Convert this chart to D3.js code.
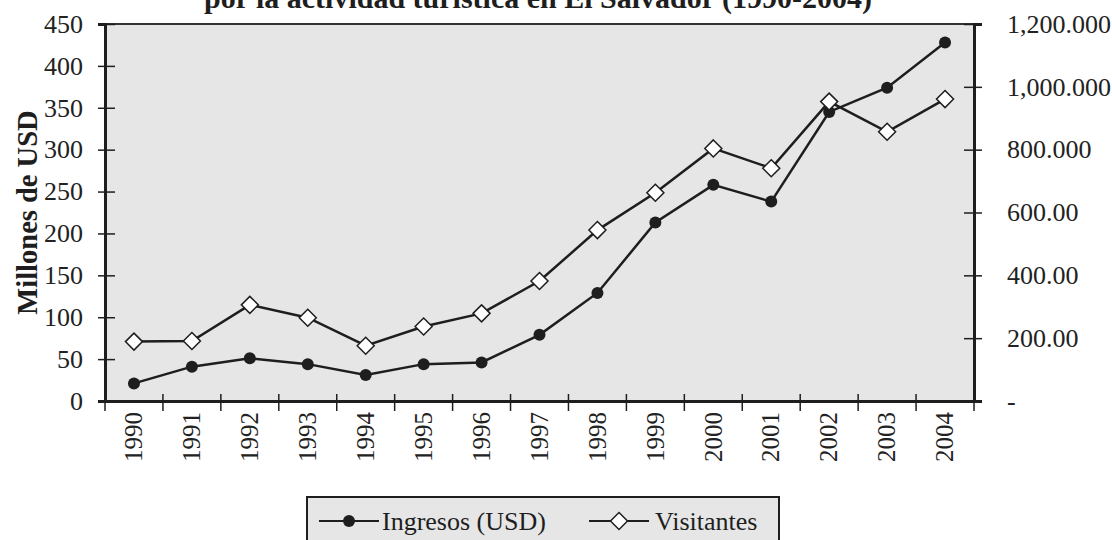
<!DOCTYPE html>
<html>
<head>
<meta charset="utf-8">
<script src="https://cdn.jsdelivr.net/npm/d3@7"></script>
<style>
  body { margin: 0; background: #fff; }
  svg { display: block; font-family: "Liberation Serif", "Times New Roman", serif; }
  .tick text { fill: #222; }
</style>
</head>
<body>
<div id="chart"></div>
<script>
const years = ["1990", "1991", "1992", "1993", "1994", "1995", "1996", "1997",
  "1998", "1999", "2000", "2001", "2002", "2003", "2004"];
const ingresos = [21, 41, 51, 44, 31, 44, 46, 79, 129, 213, 258, 238, 345, 374, 428];
const visitantes = [189000, 191000, 306000, 265000, 176000, 237000, 279000, 382000,
  544000, 663000, 804000, 741000, 953000, 857000, 961000];
const leftTicks = [0, 50, 100, 150, 200, 250, 300, 350, 400, 450];
const rightTicks = [0, 200000, 400000, 600000, 800000, 1000000, 1200000];
const rightLabels = ["-", "200.00", "400.00", "600.00", "800.000", "1,000.000", "1,200.000"];
const titleText = "por la actividad turística en El Salvador (1990-2004)";
const yTitle = "Millones de USD";
const seriesNames = ["Ingresos (USD)", "Visitantes"];

const width = 1112, height = 540;
const margin = {top: 24, right: 138, bottom: 139, left: 105};
const ink = "#1e1e1e";

const svg = d3.select("#chart")
  .append("svg")
  .attr("width", width)
  .attr("height", height);

const x = d3.scaleBand().domain(years).range([margin.left, width - margin.right]);
const yL = d3.scaleLinear().domain([0, 450]).range([height - margin.bottom, margin.top]);
const yR = d3.scaleLinear().domain([0, 1200000]).range([height - margin.bottom, margin.top]);

// plot area
svg.append("rect")
  .attr("x", margin.left)
  .attr("y", margin.top)
  .attr("width", x.range()[1] - margin.left)
  .attr("height", yL(0) - margin.top)
  .attr("fill", "#e6e6e6");

svg.append("line")
  .attr("x1", margin.left).attr("x2", x.range()[1])
  .attr("y1", margin.top).attr("y2", margin.top)
  .attr("stroke", "#333").attr("stroke-width", 2);

// left axis
const gL = svg.append("g")
  .attr("transform", `translate(${margin.left},0)`)
  .call(d3.axisLeft(yL).tickValues(leftTicks).tickSize(7).tickPadding(15));
gL.select(".domain").attr("stroke", ink).attr("stroke-width", 3);
gL.selectAll(".tick line").attr("x2", 10).attr("x1", -7).attr("stroke", ink).attr("stroke-width", 1.5);
gL.selectAll(".tick text").attr("font-size", 26).attr("font-family", "Liberation Serif");

// right axis
const gR = svg.append("g")
  .attr("transform", `translate(${x.range()[1]},0)`)
  .call(d3.axisRight(yR).tickValues(rightTicks).tickSize(8).tickPadding(25)
    .tickFormat((d, i) => rightLabels[i]));
gR.select(".domain").attr("stroke", ink).attr("stroke-width", 3);
gR.selectAll(".tick line").attr("x1", -10).attr("x2", 8).attr("stroke", ink).attr("stroke-width", 1.5);
gR.selectAll(".tick text").attr("font-size", 26).attr("font-family", "Liberation Serif");

// bottom axis: ticks at band boundaries
const gB = svg.append("g")
  .attr("transform", `translate(0,${yL(0)})`)
  .call(d3.axisBottom(x).tickSize(0).tickPadding(0));
gB.select(".domain").attr("stroke", ink).attr("stroke-width", 3);
gB.selectAll(".tick text")
  .attr("font-size", 25)
  .attr("font-family", "Liberation Serif")
  .attr("text-anchor", "end")
  .attr("transform", "rotate(-90)")
  .attr("x", -11)
  .attr("y", 0)
  .attr("dy", "0.33em");
const bounds = years.map(d => x(d)).concat([x.range()[1]]);
gB.selectAll(".bound").data(bounds).enter()
  .append("line")
  .attr("class", "bound")
  .attr("x1", d => d).attr("x2", d => d)
  .attr("y1", -7).attr("y2", 10)
  .attr("stroke", ink).attr("stroke-width", 1.5);

// y axis title
svg.append("text")
  .attr("transform", `translate(37,${(margin.top + yL(0)) / 2}) rotate(-90)`)
  .attr("text-anchor", "middle")
  .attr("font-weight", "bold")
  .attr("font-size", 28.5)
  .attr("fill", ink)
  .text(yTitle);

// title (second line; the first is outside the picture)
svg.append("text")
  .attr("x", 538)
  .attr("y", 8)
  .attr("text-anchor", "middle")
  .attr("font-weight", "bold")
  .attr("font-size", 30)
  .attr("fill", ink)
  .text(titleText);

const cx = d => x(d) + x.bandwidth() / 2;

const lineL = d3.line().x((d, i) => cx(years[i])).y(d => yL(d));
const lineR = d3.line().x((d, i) => cx(years[i])).y(d => yR(d));

const diamond = s => `M0,${-s}L${s},0L0,${s}L${-s},0Z`;

svg.append("path")
  .attr("d", lineR(visitantes))
  .attr("fill", "none").attr("stroke", ink).attr("stroke-width", 2.5);

svg.append("path")
  .attr("d", lineL(ingresos))
  .attr("fill", "none").attr("stroke", ink).attr("stroke-width", 2.5);

svg.append("g").selectAll("circle").data(ingresos).enter()
  .append("circle")
  .attr("cx", (d, i) => cx(years[i]))
  .attr("cy", d => yL(d))
  .attr("r", 6)
  .attr("fill", ink);

svg.append("g").selectAll("path").data(visitantes).enter()
  .append("path")
  .attr("transform", (d, i) => `translate(${cx(years[i])},${yR(d)})`)
  .attr("d", diamond(8.5))
  .attr("fill", "#fff")
  .attr("stroke", ink)
  .attr("stroke-width", 1.5);

// legend
const legend = svg.append("g").attr("transform", "translate(307,497)");
legend.append("rect")
  .attr("width", 472).attr("height", 60)
  .attr("fill", "#e6e6e6").attr("stroke", ink).attr("stroke-width", 2);

const li = legend.append("g").attr("transform", "translate(12,24)");
li.append("line").attr("x1", 0).attr("x2", 60).attr("stroke", ink).attr("stroke-width", 2);
li.append("circle").attr("cx", 30).attr("r", 6).attr("fill", ink);
li.append("text").attr("x", 63).attr("dy", "0.33em").attr("font-size", 26).attr("fill", ink).text(seriesNames[0]);

const lv = legend.append("g").attr("transform", "translate(282,24)");
lv.append("line").attr("x1", 0).attr("x2", 60).attr("stroke", ink).attr("stroke-width", 2);
lv.append("path").attr("transform", "translate(30,0)").attr("d", diamond(8.5))
  .attr("fill", "#fff").attr("stroke", ink).attr("stroke-width", 1.5);
lv.append("text").attr("x", 66).attr("dy", "0.33em").attr("font-size", 26).attr("fill", ink).text(seriesNames[1]);
</script>
</body>
</html>
